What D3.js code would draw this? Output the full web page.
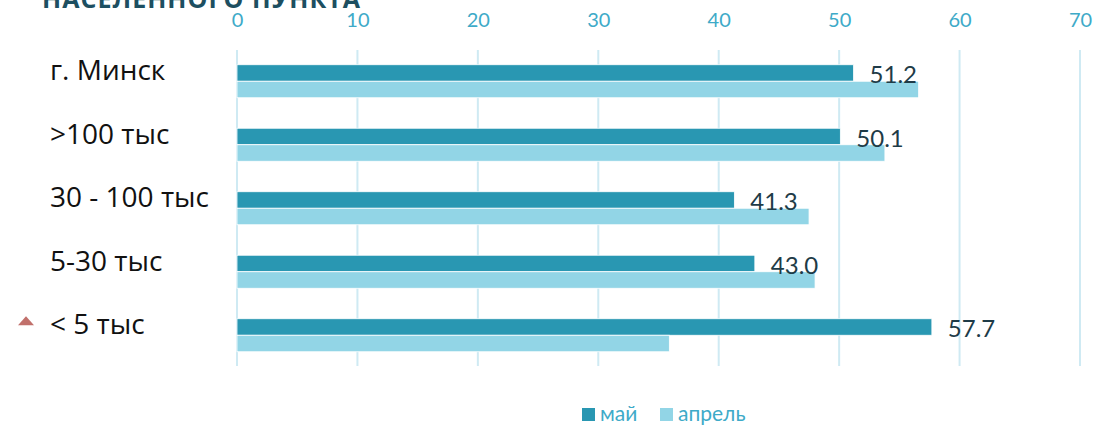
<!DOCTYPE html>
<html><head><meta charset="utf-8">
<script src="https://cdn.jsdelivr.net/npm/d3@7"></script>
<style>body{margin:0;background:#fff;}svg{display:block;font-family:Lato,"Open Sans",sans-serif;}</style>
</head><body><svg id="c" width="1096" height="428"></svg>
<script>
const categories = ["г. Минск", ">100 тыс", "30 - 100 тыс", "5-30 тыс", "< 5 тыс"];
const seriesNames = ["май", "апрель"];
const mayValues = [51.2, 50.1, 41.3, 43.0, 57.7];
const aprilValues = [56.6, 53.8, 47.5, 48.0, 35.9];
const tickValues = [0, 10, 20, 30, 40, 50, 60, 70];
const titleText = "НАСЕЛЕННОГО ПУНКТА";
const markedCategory = "< 5 тыс";

const colors = {"май": "#2997b2", "апрель": "#92d5e6"};
const svg = d3.select("#c");
const x = d3.scaleLinear().domain([0, 70]).range([237, 1080]);
const y = d3.scaleBand().domain(categories).range([49.5, 367]).paddingInner(0.48).paddingOuter(0.24);
const ys = d3.scaleBand().domain(seriesNames).range([0, y.bandwidth()]);

// title (cut off at top)
svg.append("text").attr("x", 42).attr("y", 8).attr("font-size", 25).attr("font-weight", "bold")
  .attr("font-family", "'Open Sans',sans-serif").attr("textLength", 318)
  .attr("fill", "#1d4f61").text(titleText);

// gridlines
svg.append("g").selectAll("line").data(tickValues).join("line")
  .attr("x1", d => x(d)).attr("x2", d => x(d)).attr("y1", 50).attr("y2", 366)
  .attr("stroke", "#cfeaf3").attr("stroke-width", 2);

// top axis labels
const ax = svg.append("g").attr("transform", "translate(0,27)")
  .call(d3.axisTop(x).tickValues(tickValues).tickSize(0).tickPadding(0));
ax.select(".domain").remove();
ax.selectAll("text").attr("font-size", 20).attr("fill", "#3eaac8").attr("font-family", "Lato,'Open Sans',sans-serif");

// bars
const rows = categories.map((c, i) => ({c, "май": mayValues[i], "апрель": aprilValues[i]}));
const g = svg.append("g");
rows.forEach(r => {
  seriesNames.forEach(s => {
    g.append("rect").attr("x", x(0)).attr("y", y(r.c) + ys(s))
      .attr("width", x(r[s]) - x(0)).attr("height", ys.bandwidth())
      .attr("fill", colors[s]).attr("stroke", "#fff").attr("stroke-width", 0.8);
  });
});

// value labels for май
svg.append("g").selectAll("text").data(rows).join("text")
  .attr("x", d => x(d["май"]) + 16)
  .attr("y", d => y(d.c) + ys.bandwidth() + 2)
  .attr("font-size", 24).attr("fill", "#1e3b47")
  .text(d => d["май"].toFixed(1));

// category labels
svg.append("g").selectAll("text").data(categories).join("text")
  .attr("x", 50).attr("y", d => y(d) + y.bandwidth() / 2 - 1)
  .attr("font-size", 28).attr("font-family", "'Open Sans',sans-serif")
  .attr("fill", "#111").text(d => d);

// marker triangle
const cy = y(markedCategory) + y.bandwidth() / 2;
svg.append("path")
  .attr("d", `M${18},${cy - 10} L${34},${cy - 10} L${26},${cy - 19} Z`)
  .attr("fill", "#c1706b");

// legend
const leg = svg.append("g");
const legX = [582, 660];
seriesNames.forEach((s, i) => {
  leg.append("rect").attr("x", legX[i]).attr("y", 408).attr("width", 13).attr("height", 13).attr("fill", colors[s]);
  leg.append("text").attr("x", legX[i] + 18).attr("y", 421).attr("font-size", 21).attr("fill", "#3eaac8").text(s);
});
</script></body></html>
